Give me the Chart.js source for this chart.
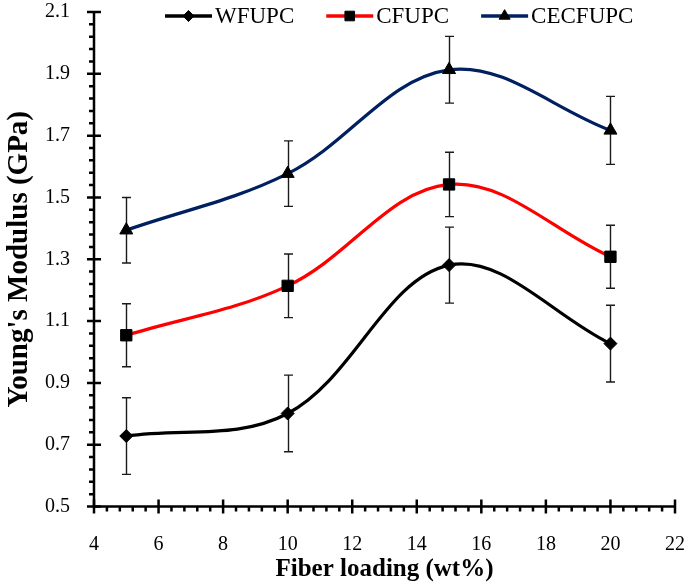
<!DOCTYPE html>
<html><head><meta charset="utf-8">
<script src="https://cdn.jsdelivr.net/npm/chart.js@4/dist/chart.umd.min.js"></script>
<style>html,body{margin:0;padding:0;background:#fff;}canvas{display:block;}</style>
</head><body>
<canvas id="c" width="685" height="585"></canvas>
<script>
// ---- data ----
const fiberLoading = [5, 10, 15, 20];
const seriesNames = ['WFUPC', 'CFUPC', 'CECFUPC'];
const wfupc    = [0.728, 0.801, 1.281, 1.027];
const wfupcErr = [0.124, 0.124, 0.123, 0.124];
const cfupc    = [1.054, 1.214, 1.542, 1.308];
const cfupcErr = [0.102, 0.103, 0.104, 0.102];
const cecfupc    = [1.394, 1.577, 1.913, 1.717];
const cecfupcErr = [0.106, 0.106, 0.108, 0.110];
const xAxisRange = [4, 22, 2];     // min, max, major step
const yAxisRange = [0.5, 2.1, 0.2];
const minorDivisions = 5;
const xTitle = 'Fiber loading (wt%)';
const yTitle = "Young's Modulus (GPa)";

const FONT = '"Liberation Serif", "Times New Roman", serif';
const colors = ['#000000', '#ff0000', '#002060'];
const markers = [
  {style: 'rectRot', radius: 6.5},
  {style: 'rect', radius: 8},
  {style: 'triangle', radius: 7.5}
];

function pts(vals, errs) {
  return fiberLoading.map((x, i) => ({x: x, y: vals[i], err: errs[i]}));
}
const allVals = [[wfupc, wfupcErr], [cfupc, cfupcErr], [cecfupc, cecfupcErr]];

const datasets = seriesNames.map((name, i) => ({
  label: name,
  data: pts(allVals[i][0], allVals[i][1]),
  borderColor: colors[i],
  borderWidth: 3.2,
  tension: 0.36,
  fill: false,
  pointStyle: markers[i].style,
  pointRadius: markers[i].radius,
  pointHoverRadius: markers[i].radius,
  pointBackgroundColor: '#000',
  pointBorderColor: '#000',
  pointBorderWidth: 1
}));

const customPlugin = {
  id: 'custom',
  beforeDatasetsDraw(chart) {
    const {ctx, scales: {x, y}} = chart;
    ctx.save();
    ctx.strokeStyle = '#1a1a1a';
    ctx.lineWidth = 1.4;
    chart.data.datasets.forEach(ds => {
      ds.data.forEach(p => {
        const px = Math.round(x.getPixelForValue(p.x)) + 0.5;
        const yt = y.getPixelForValue(p.y + p.err);
        const yb = y.getPixelForValue(p.y - p.err);
        ctx.beginPath();
        ctx.moveTo(px, yt); ctx.lineTo(px, yb);
        ctx.moveTo(px - 4.5, yt); ctx.lineTo(px + 4.5, yt);
        ctx.moveTo(px - 4.5, yb); ctx.lineTo(px + 4.5, yb);
        ctx.stroke();
      });
    });
    ctx.restore();
  },
  afterDraw(chart) {
    const {ctx, chartArea: a, scales: {x, y}} = chart;
    ctx.save();
    ctx.strokeStyle = '#000';
    ctx.lineWidth = 2.5;
    ctx.lineCap = 'butt';
    // axis lines
    ctx.beginPath();
    ctx.moveTo(a.left, a.top - 1); ctx.lineTo(a.left, a.bottom + 1.25);
    ctx.moveTo(a.left - 1.25, a.bottom); ctx.lineTo(a.right + 1, a.bottom);
    ctx.stroke();
    // y ticks
    const yt = y.ticks.map(t => t.value);
    ctx.beginPath();
    yt.forEach((v, i) => {
      const py = y.getPixelForValue(v);
      ctx.moveTo(a.left - 7, py); ctx.lineTo(a.left + 7, py);
      if (i < yt.length - 1) {
        const step = (yt[i + 1] - v) / minorDivisions;
        for (let k = 1; k < minorDivisions; k++) {
          const my = y.getPixelForValue(v + k * step);
          ctx.moveTo(a.left - 5, my); ctx.lineTo(a.left, my);
        }
      }
    });
    // x ticks
    const xt = x.ticks.map(t => t.value);
    xt.forEach((v, i) => {
      const px = x.getPixelForValue(v);
      ctx.moveTo(px, a.bottom - 7); ctx.lineTo(px, a.bottom + 7);
      if (i < xt.length - 1) {
        const step = (xt[i + 1] - v) / minorDivisions;
        for (let k = 1; k < minorDivisions; k++) {
          const mx = x.getPixelForValue(v + k * step);
          ctx.moveTo(mx, a.bottom); ctx.lineTo(mx, a.bottom + 5);
        }
      }
    });
    ctx.stroke();

    // legend
    ctx.font = '23px ' + FONT;
    ctx.textBaseline = 'middle';
    ctx.textAlign = 'left';
    let lx = 165;
    const ly = 16;
    chart.data.datasets.forEach((ds, i) => {
      ctx.strokeStyle = colors[i];
      ctx.lineWidth = 3.5;
      ctx.beginPath();
      ctx.moveTo(lx, ly); ctx.lineTo(lx + 47, ly);
      ctx.stroke();
      ctx.fillStyle = '#000';
      ctx.strokeStyle = '#000';
      ctx.lineWidth = 1;
      Chart.helpers.drawPoint(ctx, {pointStyle: markers[i].style, radius: markers[i].radius * 0.85, rotation: 0, borderWidth: 1}, lx + 23.5, ly);
      ctx.fillStyle = '#000';
      ctx.fillText(ds.label, lx + 50, ly + 1);
      lx += 50 + ctx.measureText(ds.label).width + 32;
    });
    ctx.restore();
  }
};

const hiddenGrid = (len) => ({display: true, drawOnChartArea: false, drawTicks: true, tickLength: len, color: 'rgba(0,0,0,0)'});

new Chart(document.getElementById('c'), {
  type: 'line',
  data: {datasets: datasets},
  options: {
    responsive: false,
    animation: false,
    devicePixelRatio: 1,
    layout: {padding: {top: 11, right: 8, left: 0, bottom: 0}},
    plugins: {legend: {display: false}, tooltip: {enabled: false}},
    scales: {
      x: {
        type: 'linear',
        min: xAxisRange[0], max: xAxisRange[1],
        ticks: {stepSize: xAxisRange[2], color: '#000', font: {family: FONT, size: 20}, padding: 0, maxRotation: 0},
        grid: hiddenGrid(26),
        border: {display: false},
        title: {display: true, text: xTitle, color: '#000', font: {family: FONT, size: 25, weight: 'bold'}, padding: {top: 0, bottom: 0}},
        afterFit(s) { s.height = 78.5; }
      },
      y: {
        type: 'linear',
        min: yAxisRange[0], max: yAxisRange[1],
        ticks: {stepSize: yAxisRange[2], color: '#000', font: {family: FONT, size: 20}, padding: 0,
          callback: v => Number(v).toFixed(1)},
        grid: hiddenGrid(24),
        border: {display: false},
        title: {display: true, text: yTitle, color: '#000', font: {family: FONT, size: 29, weight: 'bold'}, padding: {top: 2, bottom: 0}},
        afterFit(s) { s.width = 94; }
      }
    }
  },
  plugins: [customPlugin]
});
</script>
</body></html>
